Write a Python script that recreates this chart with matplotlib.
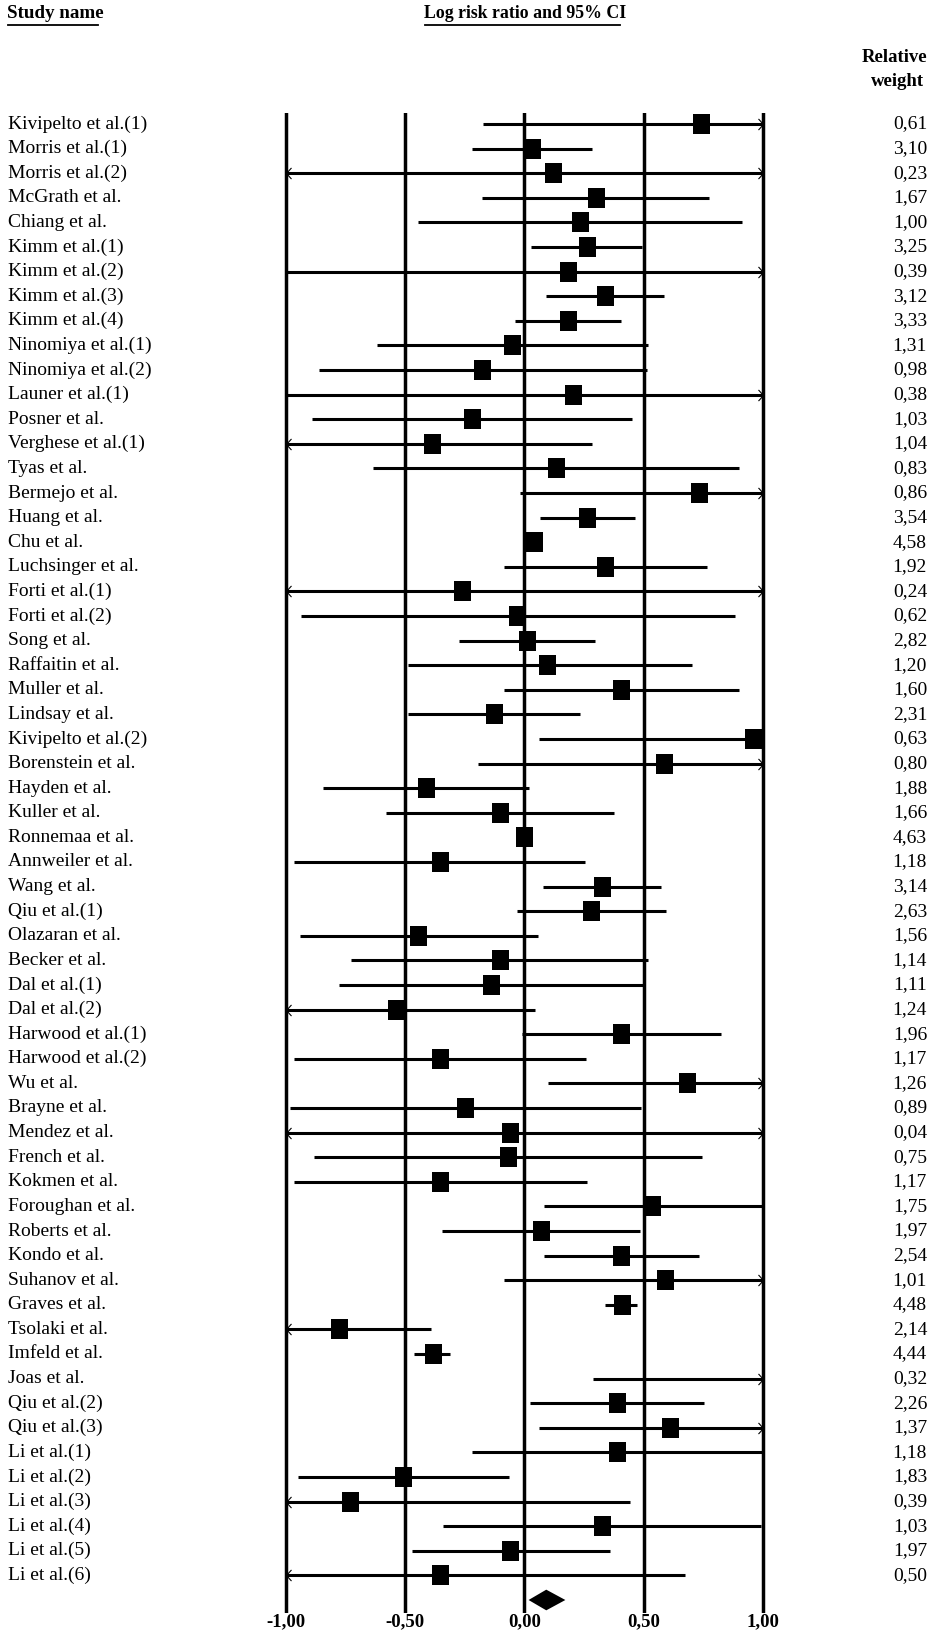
import matplotlib
matplotlib.use("Agg")
import matplotlib.pyplot as plt
import numpy as np
from matplotlib.path import Path
from matplotlib.transforms import blended_transform_factory
from matplotlib.lines import Line2D

# ---------------- data ----------------
studies = [
    "Kivipelto et al.(1)", "Morris et al.(1)", "Morris et al.(2)", "McGrath et al.",
    "Chiang et al.", "Kimm et al.(1)", "Kimm et al.(2)", "Kimm et al.(3)", "Kimm et al.(4)",
    "Ninomiya et al.(1)", "Ninomiya et al.(2)", "Launer et al.(1)", "Posner et al.",
    "Verghese et al.(1)", "Tyas et al.", "Bermejo et al.", "Huang et al.", "Chu et al.",
    "Luchsinger et al.", "Forti et al.(1)", "Forti et al.(2)", "Song et al.",
    "Raffaitin et al.", "Muller et al.", "Lindsay et al.", "Kivipelto et al.(2)",
    "Borenstein et al.", "Hayden et al.", "Kuller et al.", "Ronnemaa et al.",
    "Annweiler et al.", "Wang et al.", "Qiu et al.(1)", "Olazaran et al.", "Becker et al.",
    "Dal et al.(1)", "Dal et al.(2)", "Harwood et al.(1)", "Harwood et al.(2)", "Wu et al.",
    "Brayne et al.", "Mendez et al.", "French et al.", "Kokmen et al.", "Foroughan et al.",
    "Roberts et al.", "Kondo et al.", "Suhanov et al.", "Graves et al.", "Tsolaki et al.",
    "Imfeld et al.", "Joas et al.", "Qiu et al.(2)", "Qiu et al.(3)", "Li et al.(1)",
    "Li et al.(2)", "Li et al.(3)", "Li et al.(4)", "Li et al.(5)", "Li et al.(6)",
]
weights = [
    "0,61", "3,10", "0,23", "1,67", "1,00", "3,25", "0,39", "3,12", "3,33", "1,31",
    "0,98", "0,38", "1,03", "1,04", "0,83", "0,86", "3,54", "4,58", "1,92", "0,24",
    "0,62", "2,82", "1,20", "1,60", "2,31", "0,63", "0,80", "1,88", "1,66", "4,63",
    "1,18", "3,14", "2,63", "1,56", "1,14", "1,11", "1,24", "1,96", "1,17", "1,26",
    "0,89", "0,04", "0,75", "1,17", "1,75", "1,97", "2,54", "1,01", "4,48", "2,14",
    "4,44", "0,32", "2,26", "1,37", "1,18", "1,83", "0,39", "1,03", "1,97", "0,50",
]
log_rr = [
    0.739, 0.031, 0.122, 0.299, 0.232, 0.261, 0.182, 0.338, 0.182, -0.050,
    -0.176, 0.202, -0.220, -0.385, 0.133, 0.730, 0.263, 0.039, 0.340, -0.259,
    -0.031, 0.011, 0.097, 0.406, -0.125, 0.959, 0.584, -0.412, -0.101, 0.000,
    -0.353, 0.325, 0.280, -0.445, -0.101, -0.139, -0.538, 0.406, -0.352, 0.681,
    -0.248, -0.060, -0.069, -0.352, 0.536, 0.070, 0.406, 0.591, 0.410, -0.776,
    -0.381, 1.200, 0.387, 0.611, 0.387, -0.510, -0.731, 0.325, -0.059, -0.352,
]
ci_low = [
    -0.172, -0.221, -1.300, -0.176, -0.447, 0.028, -1.000, 0.091, -0.038, -0.616,
    -0.862, -1.000, -0.888, -1.200, -0.632, -0.017, 0.067, 0.020, -0.083, -1.400,
    -0.934, -0.273, -0.489, -0.083, -0.486, 0.062, -0.196, -0.843, -0.578, -0.020,
    -0.966, 0.078, -0.031, -0.941, -0.727, -0.776, -1.200, -0.010, -0.966, 0.098,
    -0.980, -1.600, -0.881, -0.966, 0.081, -0.345, 0.081, -0.083, 0.340, -1.200,
    -0.461, 0.289, 0.022, 0.062, -0.221, -0.947, -1.200, -0.340, -0.472, -1.200,
]
ci_high = [
    1.500, 0.282, 1.500, 0.775, 0.913, 0.494, 1.400, 0.585, 0.406, 0.517,
    0.514, 1.400, 0.450, 0.284, 0.898, 1.500, 0.464, 0.058, 0.765, 1.200,
    0.884, 0.296, 0.704, 0.898, 0.235, 1.000, 1.400, 0.020, 0.375, 0.020,
    0.256, 0.571, 0.594, 0.057, 0.520, 0.499, 0.046, 0.824, 0.258, 1.300,
    0.487, 1.500, 0.746, 0.263, 1.000, 0.485, 0.732, 1.300, 0.473, -0.389,
    -0.311, 2.100, 0.754, 1.200, 1.000, -0.064, 0.443, 0.990, 0.357, 0.674,
]
summary_est, summary_low, summary_high = 0.092, 0.018, 0.172
tick_values = [-1.0, -0.5, 0.0, 0.5, 1.0]
tick_labels = ["-1,00", "-0,50", "0,00", "0,50", "1,00"]

# ---------------- layout ----------------
plt.rcParams['font.family'] = ['Liberation Serif', 'DejaVu Serif']
W, H = 936, 1637
fig = plt.figure(figsize=(W / 100, H / 100), dpi=100)

xlo, xhi = -1.1, 1.1
px_per_unit = 238.7
x0px = 524.3
top_px, bot_px = 113, 1613
row0_px, row_step = 124, 24.6
ax = fig.add_axes([(x0px + xlo * px_per_unit) / W, 1 - bot_px / H,
                   (xhi - xlo) * px_per_unit / W, (bot_px - top_px) / H])
ax.set_xlim(xlo, xhi)
ax.set_ylim((bot_px - row0_px) / row_step, -(row0_px - top_px) / row_step)
for s in ax.spines.values():
    s.set_visible(False)
ax.set_yticks([])

ax.set_xticks(tick_values)
ax.set_xticklabels(tick_labels, fontweight='bold', fontsize=13.5)
ax.tick_params(axis='x', length=0, pad=0)

for v in tick_values:
    ax.axvline(v, color='black', lw=2.5, zorder=1)

sq = Path([(-0.85, -1), (0.85, -1), (0.85, 1), (-0.85, 1), (-0.85, -1)],
          [Path.MOVETO, Path.LINETO, Path.LINETO, Path.LINETO, Path.CLOSEPOLY])
arrow_r = Path([(-0.9, 1), (0, 0), (-0.9, -1)], [Path.MOVETO, Path.LINETO, Path.LINETO])
arrow_l = Path([(0.9, 1), (0, 0), (0.9, -1)], [Path.MOVETO, Path.LINETO, Path.LINETO])

lo_lim, hi_lim = tick_values[0], tick_values[-1]
for i in range(len(studies)):
    lo, hi, est = ci_low[i], ci_high[i], log_rr[i]
    lo_c, hi_c = max(lo, lo_lim), min(hi, hi_lim)
    ax.plot([lo_c, hi_c], [i, i], color='black', lw=2.2, solid_capstyle='butt', zorder=2)
    if lo < lo_lim:
        ax.plot([lo_lim], [i], marker=arrow_l, ms=8, mew=0.8, color='black',
                fillstyle='none', zorder=3)
    if hi > hi_lim:
        ax.plot([hi_lim], [i], marker=arrow_r, ms=8, mew=0.8, color='black',
                fillstyle='none', zorder=3)
    if lo_lim <= est <= hi_lim:
        ax.plot([est], [i], marker=sq, ms=14.4, mew=0, color='black', zorder=4)

ys = len(studies)
dh = 0.42
ax.fill([summary_low, summary_est, summary_high, summary_est],
        [ys, ys - dh, ys, ys + dh], color='black', lw=0, zorder=4)

# ---------------- text ----------------
tr = blended_transform_factory(fig.transFigure, ax.transData)
for i, (name, w) in enumerate(zip(studies, weights)):
    ax.text(8 / W, i, name, transform=tr, ha='left', va='center', fontsize=14)
    ax.text(927 / W, i, w, transform=tr, ha='right', va='center', fontsize=14)

t1 = fig.text(7 / W, 1 - 14 / H, "Study name", ha='left', va='center',
              fontsize=13.7, fontweight='bold')
t2 = fig.text(525 / W, 1 - 14 / H, "Log risk ratio and 95% CI", ha='center', va='center',
              fontsize=12.8, fontweight='bold')
fig.text(927 / W, 1 - 57 / H, "Relative", ha='right', va='center',
         fontsize=13.5, fontweight='bold')
fig.text(924 / W, 1 - 82 / H, "weight", ha='right', va='center',
         fontsize=13.5, fontweight='bold')

fig.canvas.draw()
r = fig.canvas.get_renderer()
for t in (t1, t2):
    bb = t.get_window_extent(renderer=r)
    y = 1 - 25 / H
    fig.add_artist(Line2D([bb.x0 / W + 1 / W, bb.x1 / W - 6 / W], [y, y],
                          transform=fig.transFigure, color='black', lw=1.3))

fig.savefig("out.png", dpi=100)
